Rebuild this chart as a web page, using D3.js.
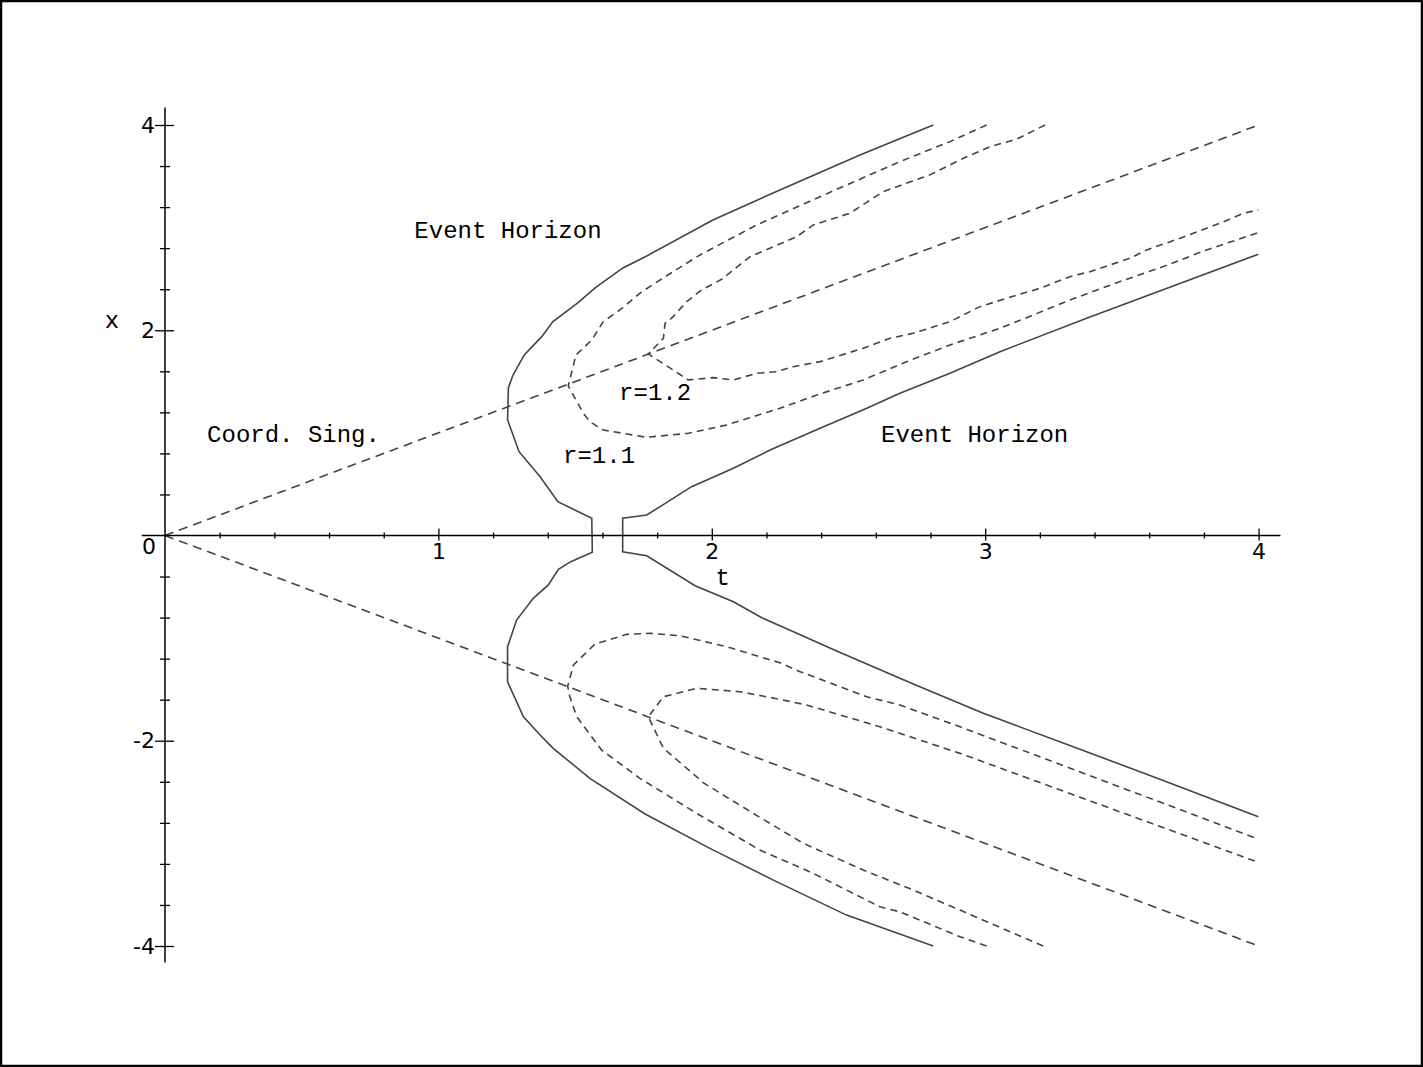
<!DOCTYPE html>
<html>
<head>
<meta charset="utf-8">
<script src="https://cdn.jsdelivr.net/npm/d3@7"></script>
<style>
  body { margin: 0; background: #fff; }
  svg { display: block; }
  .lbl { font-family: 'Liberation Mono', 'DejaVu Sans Mono', monospace; font-size: 24px; fill: #000; }
  .tickl line, .minor line { stroke: #000; stroke-width: 1.3; }
  .curve { fill: none; stroke: #444; stroke-width: 1.6; }
</style>
</head>
<body>
<script>
// data (t, x)
const horizonLeft = [
  [2.81, 4.00], [2.542, 3.708], [2.249, 3.367], [2.004, 3.075], [1.762, 2.724],
  [1.675, 2.607], [1.573, 2.412], [1.511, 2.269], [1.419, 2.084], [1.378, 1.938],
  [1.314, 1.759], [1.273, 1.564], [1.256, 1.441], [1.253, 1.126], [1.273, 0.980],
  [1.295, 0.817], [1.372, 0.573], [1.437, 0.329], [1.561, 0.168], [1.563, -0.164],
  [1.484, -0.255], [1.439, -0.329], [1.402, -0.482], [1.347, -0.612], [1.286, -0.824],
  [1.253, -1.084], [1.253, -1.425], [1.311, -1.766], [1.372, -1.944], [1.420, -2.074],
  [1.554, -2.366], [1.756, -2.714], [1.993, -3.049], [2.225, -3.358], [2.493, -3.699],
  [2.81, -4.00]
];
const horizonRight = [
  [3.999, 2.741], [3.371, 2.117], [3.054, 1.791], [2.871, 1.581], [2.688, 1.386],
  [2.567, 1.240], [2.396, 1.045], [2.213, 0.833], [2.079, 0.655], [1.926, 0.476],
  [1.811, 0.281], [1.762, 0.200], [1.674, 0.168], [1.674, -0.158], [1.762, -0.197],
  [1.939, -0.489], [2.079, -0.645], [2.183, -0.801], [2.311, -0.953], [2.463, -1.133],
  [2.737, -1.447], [2.993, -1.733], [3.322, -2.058], [3.615, -2.351], [3.999, -2.741]
];
const r11Upper = [
  [3.005, 4.00], [2.871, 3.838], [2.688, 3.643], [2.591, 3.530], [2.384, 3.287],
  [2.164, 3.026], [1.957, 2.734], [1.908, 2.653], [1.792, 2.458], [1.737, 2.361],
  [1.664, 2.198], [1.603, 2.084], [1.561, 1.905], [1.503, 1.759], [1.475, 1.457],
  [1.530, 1.191], [1.554, 1.109], [1.603, 1.028], [1.762, 0.957], [1.914, 0.996],
  [2.054, 1.077], [2.249, 1.240], [2.384, 1.369], [2.554, 1.516], [2.713, 1.694],
  [2.871, 1.857], [3.054, 2.019], [3.146, 2.117], [3.310, 2.295], [3.493, 2.474],
  [3.651, 2.620], [3.810, 2.783], [3.999, 2.951]
];
const r11Lower = [
  [3.005, -4.00], [2.908, -3.910], [2.688, -3.667], [2.615, -3.618], [2.371, -3.292],
  [2.176, -3.065], [1.945, -2.708], [1.737, -2.366], [1.597, -2.091], [1.506, -1.766],
  [1.479, -1.555], [1.473, -1.467], [1.494, -1.262], [1.573, -1.057], [1.689, -0.963],
  [1.774, -0.953], [1.884, -0.977], [2.054, -1.084], [2.249, -1.240], [2.323, -1.327],
  [2.567, -1.571], [2.688, -1.652], [2.908, -1.864], [3.999, -2.958]
];
const r12Upper = [
  [3.219, 4.00], [3.115, 3.862], [3.018, 3.789], [2.920, 3.676], [2.798, 3.514],
  [2.627, 3.351], [2.505, 3.140], [2.371, 3.026], [2.311, 2.912], [2.140, 2.717],
  [2.036, 2.497], [1.963, 2.393], [1.908, 2.279], [1.859, 2.133], [1.829, 2.068],
  [1.823, 1.922], [1.768, 1.769], [1.914, 1.516], [2.005, 1.538], [2.079, 1.516],
  [2.164, 1.581], [2.237, 1.596], [2.298, 1.645], [2.396, 1.694], [2.554, 1.825],
  [2.652, 1.922], [2.737, 1.971], [2.871, 2.084], [2.981, 2.230], [3.079, 2.312],
  [3.200, 2.409], [3.310, 2.522], [3.383, 2.571], [3.530, 2.702], [3.591, 2.783],
  [3.713, 2.897], [3.859, 3.043], [3.944, 3.140], [3.999, 3.173]
];
const r12Lower = [
  [3.212, -4.00], [2.908, -3.650], [2.737, -3.455], [2.554, -3.260], [2.335, -3.000],
  [2.152, -2.708], [1.963, -2.400], [1.945, -2.351], [1.823, -2.074], [1.768, -1.766],
  [1.823, -1.571], [1.945, -1.489], [2.103, -1.522], [2.249, -1.596], [2.347, -1.652],
  [2.615, -1.864], [2.908, -2.123], [3.999, -3.185]
];
const singUpper = [[0, 0], [4, 4]];
const singLower = [[0, 0], [4, -4]];

const tMajor = [1, 2, 3, 4];
const tMinor = [0.2, 0.4, 0.6, 0.8, 1.2, 1.4, 1.6, 1.8, 2.2, 2.4, 2.6, 2.8, 3.2, 3.4, 3.6, 3.8];
const xMajor = [-4, -2, 2, 4];
const xMinor = [-3.6, -3.2, -2.8, -2.4, -1.6, -1.2, -0.8, -0.4, 0.4, 0.8, 1.2, 1.6, 2.4, 2.8, 3.2, 3.6];

const labels = [
  { text: 'Event Horizon', t: 0.912, x: 2.90 },
  { text: 'Coord. Sing.', t: 0.154, x: 0.915 },
  { text: 'r=1.2', t: 1.661, x: 1.324 },
  { text: 'r=1.1', t: 1.456, x: 0.707 },
  { text: 'Event Horizon', t: 2.619, x: 0.915 }
];

const w = 1423, h = 1067;
const tickFont = 22;
const svg = d3.select('body').append('svg').attr('width', w).attr('height', h);

// frame
svg.append('rect')
  .attr('x', 1).attr('y', 1)
  .attr('width', w - 2).attr('height', h - 2)
  .attr('fill', 'none').attr('stroke', '#000').attr('stroke-width', 2.5);

const x = d3.scaleLinear().domain([0, 4]).range([165, 1258.6]);
const y = d3.scaleLinear().domain([-4, 4]).range([946, 125]);

const line = d3.line().x(d => x(d[0])).y(d => y(d[1]));

// curves
const solid = [horizonLeft, horizonRight];
const dashed = [r11Upper, r11Lower, r12Upper, r12Lower];
const sing = [singUpper, singLower];

svg.selectAll('.solid').data(solid).enter().append('path')
  .attr('class', 'curve solid').attr('d', line);
svg.selectAll('.dashed').data(dashed).enter().append('path')
  .attr('class', 'curve dashed').attr('stroke-dasharray', '7,5').attr('d', line);
svg.selectAll('.sing').data(sing).enter().append('path')
  .attr('class', 'curve sing').attr('stroke-dasharray', '9,6').attr('d', line);

// axis lines (crossing at origin)
svg.append('line')
  .attr('x1', x(-0.085)).attr('x2', x(4.08))
  .attr('y1', y(0)).attr('y2', y(0))
  .attr('stroke', '#000').attr('stroke-width', 1.5);
svg.append('line')
  .attr('x1', x(0)).attr('x2', x(0))
  .attr('y1', y(4.17)).attr('y2', y(-4.16))
  .attr('stroke', '#000').attr('stroke-width', 1.5);

function tickAxis(axis, cls, tx, ty) {
  const g = svg.append('g').attr('class', cls)
    .attr('transform', `translate(${tx}, ${ty})`)
    .call(axis);
  g.select('.domain').remove();
  g.attr('font-size', null).attr('font-family', null);
  g.selectAll('text')
    .style('font-family', "'DejaVu Sans', sans-serif")
    .style('font-size', tickFont + 'px')
    .style('fill', '#000');
  return g;
}

// t axis ticks
tickAxis(d3.axisBottom(x).tickValues(tMinor).tickSize(3).tickFormat(''), 'minor', 0, y(0));
tickAxis(d3.axisTop(x).tickValues(tMinor).tickSize(3).tickFormat(''), 'minor', 0, y(0));
tickAxis(d3.axisTop(x).tickValues(tMajor).tickSize(7).tickFormat(''), 'tickl', 0, y(0));
tickAxis(d3.axisBottom(x).tickValues(tMajor).tickSize(5).tickPadding(3).tickFormat(d3.format('d')), 'tickl', 0, y(0));

// x axis ticks
tickAxis(d3.axisLeft(y).tickValues(xMinor).tickSize(5).tickFormat(''), 'minor', x(0), 0);
tickAxis(d3.axisRight(y).tickValues(xMinor).tickSize(5).tickFormat(''), 'minor', x(0), 0);
tickAxis(d3.axisRight(y).tickValues(xMajor).tickSize(9).tickFormat(''), 'tickl', x(0), 0);
tickAxis(d3.axisLeft(y).tickValues(xMajor).tickSize(10).tickPadding(0).tickFormat(d => String(d)), 'tickl', x(0), 0);

svg.append('text')
  .attr('x', x(0) - 16).attr('y', y(0) + 18)
  .attr('text-anchor', 'middle')
  .style('font-family', "'DejaVu Sans', sans-serif")
  .style('font-size', tickFont + 'px')
  .text('0');

// axis titles
svg.append('text').attr('class', 'lbl')
  .attr('x', 112).attr('y', 328).attr('text-anchor', 'middle').text('x');
svg.append('text').attr('class', 'lbl')
  .attr('x', x(2.04)).attr('y', 585).attr('text-anchor', 'middle').text('t');

// region labels
svg.selectAll('.region').data(labels).enter().append('text')
  .attr('class', 'lbl region')
  .attr('x', d => x(d.t))
  .attr('y', d => y(d.x))
  .text(d => d.text);
</script>
</body>
</html>
